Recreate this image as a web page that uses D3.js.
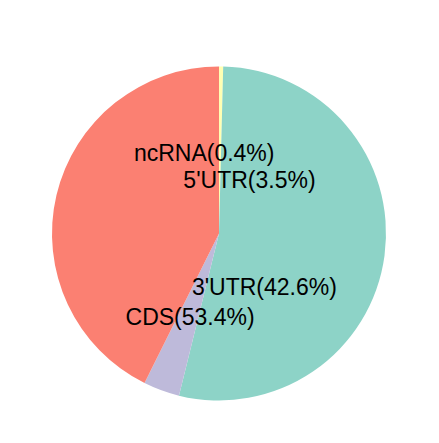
<!DOCTYPE html>
<html>
<head>
<meta charset="utf-8">
<script src="https://cdn.jsdelivr.net/npm/d3@7"></script>
<style>
  body { margin: 0; background: #fff; }
  text { font-family: "Liberation Sans", Arial, sans-serif; }
</style>
</head>
<body>
<svg id="chart" width="439" height="443"></svg>
<script>
// slices, clockwise from 12 o'clock
const categories = ["ncRNA", "CDS", "5'UTR", "3'UTR"];
const percents = [0.4, 53.4, 3.5, 42.6];

// where the labels sit: share of the circle (%) and share of the radius
const labelAt = [97.1, 55.3, 8.2, 38.8];
const labelR = [0.49, 0.53, 0.37, 0.42];

const colors = {"ncRNA": "#FFFFB3", "CDS": "#8DD3C7", "5'UTR": "#BEBADA", "3'UTR": "#FB8072"};

const w = 439, h = 443;
const cx = 219, cy = 233.5, radius = 167;

const svg = d3.select('#chart');
const g = svg.append('g').attr('transform', `translate(${cx},${cy})`);

const data = categories.map((c, i) => ({cat: c, value: percents[i]}));

const pie = d3.pie().sort(null).value(d => d.value);
const arc = d3.arc().innerRadius(0).outerRadius(radius);

g.selectAll('path')
  .data(pie(data))
  .enter()
  .append('path')
  .attr('d', arc)
  .attr('fill', d => colors[d.data.cat]);

const angle = d3.scaleLinear().domain([0, 100]).range([0, 2 * Math.PI]);
const rScale = d3.scaleLinear().domain([0, 1]).range([0, radius]);

g.selectAll('text')
  .data(data)
  .enter()
  .append('text')
  .attr('x', (d, i) => rScale(labelR[i]) * Math.sin(angle(labelAt[i])))
  .attr('y', (d, i) => -rScale(labelR[i]) * Math.cos(angle(labelAt[i])))
  .attr('dy', '0.35em')
  .attr('text-anchor', 'middle')
  .attr('font-size', 23)
  .attr('fill', '#000')
  .text(d => `${d.cat}(${d.value}%)`);
</script>
</body>
</html>
